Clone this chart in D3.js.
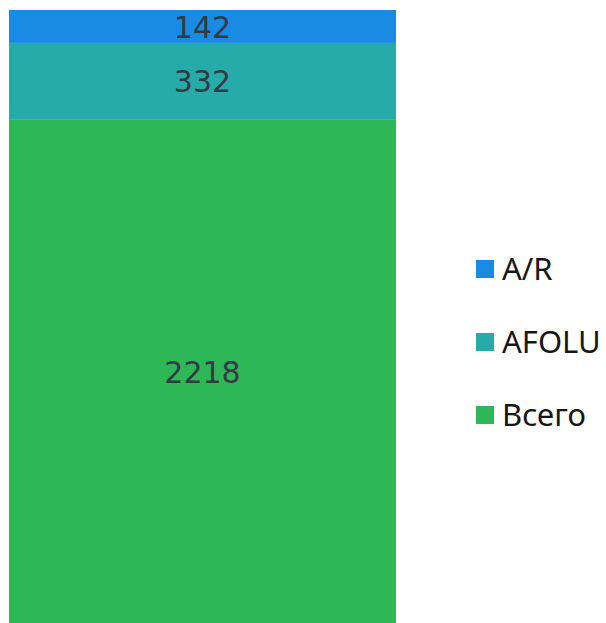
<!DOCTYPE html>
<html>
<head>
<meta charset="utf-8">
<script src="https://cdn.jsdelivr.net/npm/d3@7"></script>
<style>
    body { margin: 0; background: #fff; overflow: hidden; }
    svg { display: block; }
</style>
</head>
<body>
<svg id="svg"></svg>
<script>
// data, bottom to top
const series = ["Всего", "AFOLU", "A/R"];
const values = [2218, 332, 142];
const colors = ["#2eb757", "#27aba8", "#1a8be3"];
const category = ["total"];
const legendOrder = ["A/R", "AFOLU", "Всего"];

const width = 606,
    height = 623;
// the bar runs a little past the bottom edge of the picture
const margin = {top: 10, right: 210, bottom: -11, left: 9};

const svg = d3.select("#svg")
    .attr("width", width)
    .attr("height", height);

const row = {};
series.forEach((s, i) => row[s] = values[i]);
const stacked = d3.stack().keys(series)([row]);

const x = d3.scaleBand()
    .domain(category)
    .range([margin.left, width - margin.right])
    .padding(0);

const y = d3.scaleLinear()
    .domain([0, d3.sum(values)])
    .range([height - margin.bottom, margin.top]);

const color = d3.scaleOrdinal().domain(series).range(colors);

const g = svg.append("g");

g.selectAll("rect")
    .data(stacked)
    .join("rect")
    .attr("x", x("total"))
    .attr("width", x.bandwidth())
    .attr("y", d => y(d[0][1]))
    .attr("height", d => y(d[0][0]) - y(d[0][1]))
    .attr("fill", d => color(d.key));

// labels sit in the middle of the visible part of each segment
g.selectAll("text")
    .data(stacked)
    .join("text")
    .attr("x", x("total") + x.bandwidth() / 2)
    .attr("y", d => (Math.min(y(d[0][0]), height) + y(d[0][1])) / 2)
    .attr("dy", "0.37em")
    .attr("text-anchor", "middle")
    .attr("font-family", "DejaVu Sans, sans-serif")
    .attr("font-size", 30)
    .attr("fill", "#333a45")
    .text(d => d[0][1] - d[0][0]);

// legend
const legend = svg.append("g")
    .selectAll("g")
    .data(legendOrder)
    .join("g")
    .attr("transform", (d, i) => `translate(476, ${269 + i * 73})`);

legend.append("rect")
    .attr("x", 0)
    .attr("y", -9)
    .attr("width", 18)
    .attr("height", 18)
    .attr("fill", d => color(d));

legend.append("text")
    .attr("x", 26)
    .attr("y", 0)
    .attr("dy", "0.36em")
    .attr("font-family", "Noto Sans, sans-serif")
    .attr("font-size", 31)
    .attr("fill", "#161616")
    .text(d => d);
</script>
</body>
</html>
